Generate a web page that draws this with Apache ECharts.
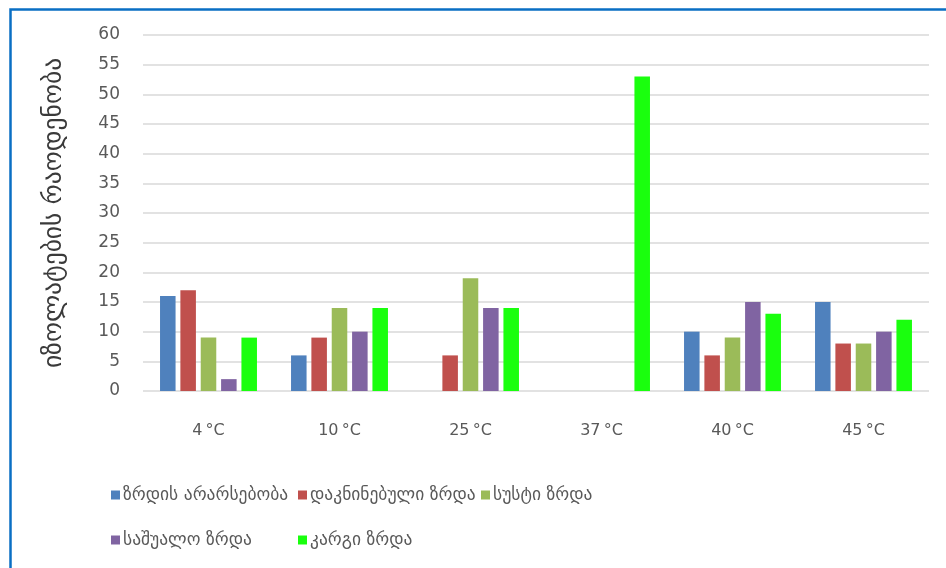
<!DOCTYPE html>
<html>
<head>
<meta charset="utf-8">
<title>იზოლატების რაოდენობა</title>
<script src="https://cdn.jsdelivr.net/npm/echarts@6/dist/echarts.min.js"></script>
<style>
  html, body { margin: 0; padding: 0; background: #ffffff; }
  #chart { width: 946px; height: 568px; }
</style>
</head>
<body>
<div id="chart"></div>
<script>
// Temperatures tested
const categories = ['4\u2009°C', '10\u2009°C', '25\u2009°C', '37\u2009°C', '40\u2009°C', '45\u2009°C'];

// Growth classes (legend order)
const seriesNames = ['ზრდის არარსებობა', 'დაკნინებული ზრდა', 'სუსტი ზრდა', 'საშუალო ზრდა', 'კარგი ზრდა'];

// Isolate counts per temperature for each growth class
const noGrowth      = [16, 6, 0, 0, 10, 15];
const reducedGrowth = [17, 9, 6, 0, 6, 8];
const weakGrowth    = [9, 14, 19, 0, 9, 8];
const mediumGrowth  = [2, 10, 14, 0, 15, 10];
const goodGrowth    = [9, 14, 14, 53, 13, 12];

const yTicks = { min: 0, max: 60, interval: 5 };
const yAxisTitle = 'იზოლატების რაოდენობა';

const colors = ['#4f81bd', '#c0504d', '#9bbb59', '#8064a2', '#1aff0e'];
const values = [noGrowth, reducedGrowth, weakGrowth, mediumGrowth, goodGrowth];

const geoFont = '"DejaVu Sans", sans-serif';
const numFont = '"DejaVu Sans", sans-serif';

// Legend entries placed as two aligned rows
const legendSlots = [
  { left: 111, top: 486 },
  { left: 298, top: 486 },
  { left: 481, top: 486 },
  { left: 111, top: 531 },
  { left: 298, top: 531 }
];

const chart = echarts.init(document.getElementById('chart'), null, { renderer: 'canvas' });

chart.setOption({
  backgroundColor: '#ffffff',
  animation: false,
  color: colors,
  graphic: [{
    type: 'rect',
    left: 8, top: 7,
    shape: { x: 0, y: 0, width: 980, height: 600 },
    style: { fill: 'none', stroke: '#0a6fc4', lineWidth: 2.5 },
    silent: true, z: 100
  }],
  legend: legendSlots.map((slot, i) => ({
    data: [seriesNames[i]],
    left: slot.left,
    top: slot.top,
    padding: 0,
    itemWidth: 9,
    itemHeight: 9,
    icon: 'rect',
    selectedMode: false,
    textStyle: { fontFamily: geoFont, fontSize: 17.5, color: '#595959', padding: [0, 0, 0, -2] }
  })),
  grid: { left: 143, right: 17, top: 35, bottom: 177, containLabel: false },
  xAxis: {
    type: 'category',
    data: categories,
    axisLine: { show: false },
    axisTick: { show: false },
    axisLabel: { fontFamily: numFont, fontSize: 16, color: '#595959', margin: 32 }
  },
  yAxis: {
    type: 'value',
    min: yTicks.min, max: yTicks.max, interval: yTicks.interval,
    name: yAxisTitle,
    nameLocation: 'middle',
    nameRotate: 90,
    nameGap: 76,
    nameTextStyle: { fontFamily: geoFont, fontSize: 25.5, color: '#3a3a3a' },
    axisLine: { show: false },
    axisTick: { show: false },
    axisLabel: { fontFamily: numFont, fontSize: 17, color: '#595959', margin: 23 },
    splitLine: { lineStyle: { color: '#d9d9d9', width: 1.5 } }
  },
  series: seriesNames.map((name, i) => ({
    name: name,
    type: 'bar',
    data: values[i],
    barGap: '31%',
    barCategoryGap: '26%',
    itemStyle: { color: colors[i] }
  }))
});
</script>
</body>
</html>
